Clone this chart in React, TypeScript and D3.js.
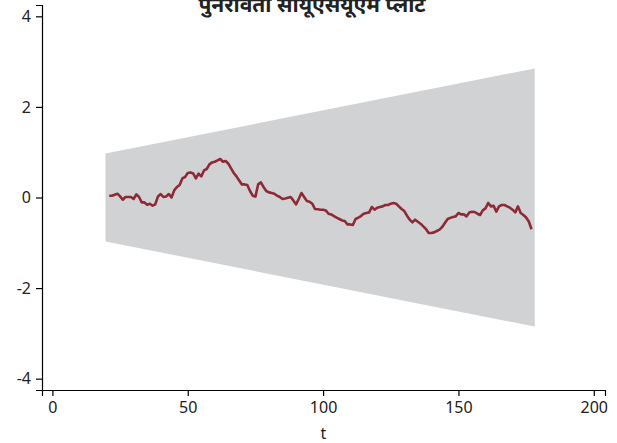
import { area, axisBottom, axisLeft, line, scaleLinear, select } from "d3";
import { useEffect, useRef } from "react";

const title = "पुनरावर्ती सीयूएसयूएम प्लॉट";
const xLabel = "t";

const xTicks = [0, 50, 100, 150, 200];
const yTicks = [-4, -2, 0, 2, 4];

// significance band end points
const bandT = [19.6, 178.2];
const bandUpper = [0.97, 2.85];
const bandLower = [-0.97, -2.85];

const cusumT = [
  21, 22, 24, 25, 26, 27, 29, 30, 31, 32, 33, 34, 35, 36, 37, 38, 39, 40, 41, 42, 43, 44, 45, 46, 47, 48, 49, 50,
  51, 52, 53, 54, 55, 56, 57, 58, 59, 60, 61, 62, 63, 64, 65, 66, 67, 68, 69, 70, 71, 72, 73, 74, 75, 76, 77, 78,
  79, 80, 81, 82, 83, 84, 85, 86, 87, 88, 89, 90, 91, 92, 93, 94, 95, 96, 97, 98, 99, 100, 101, 102, 103, 104, 105,
  106, 107, 108, 109, 110, 111, 112, 113, 114, 115, 116, 117, 118, 119, 120, 121, 122, 123, 124, 125, 126, 127, 128,
  129, 130, 131, 132, 133, 134, 135, 136, 137, 138, 139, 140, 141, 142, 143, 144, 145, 146, 147, 148, 149, 150, 151,
  152, 153, 154, 155, 156, 157, 158, 159, 160, 161, 162, 163, 164, 165, 166, 167, 168, 169, 170, 171, 172, 173, 174,
  175, 176, 177,
];
const cusumValues = [
  0.04, 0.04, 0.084, 0.024, -0.049, 0.011, 0.011, -0.033, 0.068, 0.011, -0.108, -0.108, -0.159, -0.137, -0.181,
  -0.15, 0.024, 0.077, 0.011, 0.024, 0.077, 0.002, 0.157, 0.232, 0.276, 0.422, 0.453, 0.541,
  0.554, 0.53, 0.422, 0.525, 0.466, 0.598, 0.629, 0.731, 0.775, 0.79, 0.819, 0.85, 0.79, 0.806, 0.746, 0.642,
  0.541, 0.466, 0.377, 0.289, 0.289, 0.276, 0.143, 0.04, 0.02, 0.289, 0.333, 0.232,
  0.143, 0.113, 0.1, 0.084, 0.04, 0.011, -0.033, -0.02, -0.004, 0.011, -0.064, -0.152, -0.033, 0.099, 0.011, -0.077,
  -0.093, -0.137, -0.254, -0.26, -0.269, -0.269, -0.285, -0.358, -0.373, -0.41, -0.446,
  -0.475, -0.506, -0.519, -0.594, -0.594, -0.607, -0.475, -0.446, -0.41, -0.358, -0.34, -0.33, -0.21, -0.269, -0.225,
  -0.21, -0.196, -0.166, -0.166, -0.137, -0.121, -0.137, -0.196,
  -0.254, -0.3, -0.402, -0.49, -0.55, -0.49, -0.534, -0.578, -0.638, -0.695, -0.784, -0.784, -0.77, -0.74, -0.711,
  -0.651, -0.563, -0.475, -0.45, -0.43, -0.417, -0.342, -0.373,
  -0.373, -0.417, -0.329, -0.313, -0.32, -0.358, -0.386, -0.285, -0.241, -0.121, -0.196, -0.181, -0.313, -0.196,
  -0.166, -0.166, -0.196, -0.225, -0.269, -0.329, -0.196, -0.342, -0.386,
  -0.44, -0.53, -0.7,
];

const width = 617;
const height = 443;
const left = 42;
const right = 605;
const top = 5;
const bottom = 390;
const font = "'Noto Sans', 'Noto Sans Devanagari', sans-serif";

export default function App() {
  const xAxisRef = useRef<SVGGElement>(null);
  const yAxisRef = useRef<SVGGElement>(null);

  const x = scaleLinear().domain([-3.85, 204.15]).range([left, right]);
  const y = scaleLinear().domain([-4.25, 4.25]).range([bottom, top]);

  useEffect(() => {
    if (xAxisRef.current) {
      const g = select(xAxisRef.current);
      g.call(
        axisBottom(x)
          .tickValues(xTicks)
          .tickFormat((d) => String(d))
          .tickSizeOuter(0)
          .tickSize(6)
          .tickPadding(6)
      );
      g.select(".domain").attr("stroke", "#000").attr("stroke-width", 1.2);
      g.selectAll(".tick line").attr("stroke", "#000").attr("stroke-width", 1.2);
      g.selectAll(".tick text").attr("fill", "#222").attr("font-size", 16).attr("font-family", font);
    }
    if (yAxisRef.current) {
      const g = select(yAxisRef.current);
      g.call(
        axisLeft(y)
          .tickValues(yTicks)
          .tickFormat((d) => String(d))
          .tickSizeOuter(0)
          .tickSize(6)
          .tickPadding(5)
      );
      g.select(".domain").attr("stroke", "#000").attr("stroke-width", 1.2);
      g.selectAll(".tick line").attr("stroke", "#000").attr("stroke-width", 1.2);
      g.selectAll(".tick text").attr("fill", "#222").attr("font-size", 16).attr("font-family", font);
    }
  });

  const band =
    area<number>()
      .x((_, i) => x(bandT[i]))
      .y0((_, i) => y(bandLower[i]))
      .y1((d) => y(d))(bandUpper) ?? "";

  const path =
    line<number>()
      .x((_, i) => x(cusumT[i]))
      .y((d) => y(d))(cusumValues) ?? "";

  return (
    <svg
      width={width}
      height={height}
      style={{ position: "absolute", left: 0, top: 0, background: "#fff" }}
    >
      <path d={band} fill="#d1d2d4" />
      <path d={path} fill="none" stroke="#8e2a36" strokeWidth={2.6} strokeLinejoin="round" />
      <g ref={xAxisRef} transform={`translate(0,${bottom})`} />
      <g ref={yAxisRef} transform={`translate(${left},0)`} />
      <text x={312} y={12} textAnchor="middle" fontSize={21} fontWeight="bold" fill="#222" fontFamily={font}>
        {title}
      </text>
      <text x={(left + right) / 2} y={439} textAnchor="middle" fontSize={16} fill="#222" fontFamily={font}>
        {xLabel}
      </text>
    </svg>
  );
}
